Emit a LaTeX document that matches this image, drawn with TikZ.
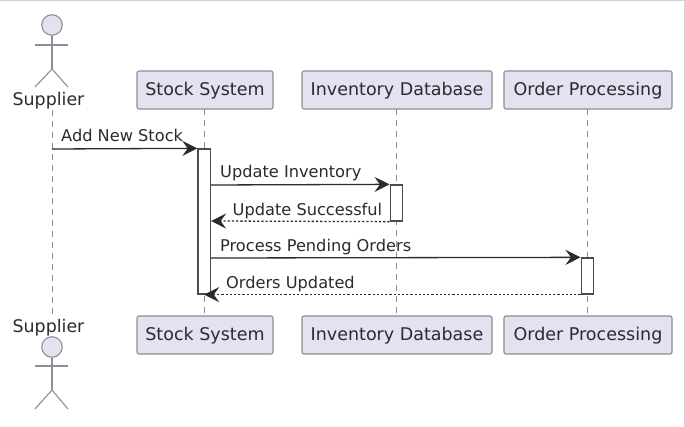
\documentclass[tikz,border=0pt]{standalone}
\usepackage{fontspec}
\setmainfont{DejaVu Sans}
\usetikzlibrary{arrows.meta}
\definecolor{pfill}{HTML}{E2E2F0}
\definecolor{pline}{HTML}{8E8E94}
\definecolor{ink}{HTML}{2A2A30}
\definecolor{life}{HTML}{8C8C8C}
\tikzset{
  x=1pt,y=-1pt,
  part/.style={draw=pline,fill=pfill,line width=1.1pt,rounded corners=2pt,minimum height=38pt,inner sep=0pt,text height=15pt,text depth=3pt,text=ink,font=\fontsize{17.5}{20}\selectfont},
  lbl/.style={text=ink,font=\fontsize{16.2}{19}\selectfont,inner sep=0pt,anchor=base west},
  actorlbl/.style={text=ink,font=\fontsize{17.4}{20}\selectfont,inner sep=0pt},
  lifeline/.style={draw=life,line width=.9pt,dash pattern=on 6pt off 5pt},
  bar/.style={draw=ink!85,fill=white,line width=1.3pt,inner sep=0pt,minimum width=12.5pt},
  msg/.style={draw=ink,line width=1.3pt,-{Stealth[length=15pt,width=15pt,inset=5.5pt]}},
  ret/.style={msg,dash pattern=on 2.2pt off 2pt},
  stick/.style={draw=pline,line width=1.1pt},
  head/.style={circle,draw=pline,fill=pfill,line width=1.1pt,minimum size=20.5pt,inner sep=0pt},
}
\begin{document}
\begin{tikzpicture}
\useasboundingbox (0,0) rectangle (685,427);
\fill[white] (0,0) rectangle (685,427);
\draw[black!18,line width=1pt] (0,1) -- (684.5,1) -- (684.5,427);

% lifeline anchors
\coordinate (supT) at (52,110);
\coordinate (supB) at (52,316);
\coordinate (stoT) at (204,109);
\coordinate (stoB) at (204,315);
\coordinate (invT) at (396,109);
\coordinate (invB) at (396,315);
\coordinate (ordT) at (587,109);
\coordinate (ordB) at (587,315);
\draw[lifeline] (supT) -- (supB);
\draw[lifeline] (stoT) -- (stoB);
\draw[lifeline] (invT) -- (invB);
\draw[lifeline] (ordT) -- (ordB);

% participants
\node[part,minimum width=136pt] (stock) at (205,90) {Stock System};
\node[part,minimum width=190pt] (inv) at (397,90) {Inventory Database};
\node[part,minimum width=168pt] (ord) at (588,90) {Order Processing};
\node[part,minimum width=136pt] (stock2) at (205,335) {Stock System};
\node[part,minimum width=190pt] (inv2) at (397,335) {Inventory Database};
\node[part,minimum width=168pt] (ord2) at (588,335) {Order Processing};

% actors
\node[head] (h1) at (52,25) {};
\coordinate (hip1) at (52,69);
\coordinate (armL1) at (35,45);
\coordinate (armR1) at (68,45);
\coordinate (legL1) at (35,87);
\coordinate (legR1) at (68,87);
\draw[stick] (h1.south) -- (hip1);
\draw[stick] (armL1) -- (armR1);
\draw[stick] (legL1) -- (hip1) -- (legR1);
\node[actorlbl] (sup1) at (48.5,100.5) {Supplier};

\node[actorlbl] (sup2) at (48.5,327.5) {Supplier};
\node[head] (h2) at (52,347) {};
\coordinate (hip2) at (52,390);
\coordinate (armL2) at (35,366);
\coordinate (armR2) at (68,366);
\coordinate (legL2) at (35,409);
\coordinate (legR2) at (68,409);
\draw[stick] (h2.south) -- (hip2);
\draw[stick] (armL2) -- (armR2);
\draw[stick] (legL2) -- (hip2) -- (legR2);

% activations
\node[bar,minimum height=145pt] (a1) at (204.2,221.5) {};
\node[bar,minimum height=36pt] (a2) at (396.4,203) {};
\node[bar,minimum height=36pt] (a3) at (587.4,276) {};

% messages
\coordinate (m1) at (52,149);
\draw[msg] (m1) -- (a1.north west);
\path (a1.east) ++(0,-36.5) coordinate (m2s);
\draw[msg] (m2s) -- (a2.north west);
\path (a1.east) ++(0,-0.5) coordinate (m3e);
\draw[ret] (a2.south west) -- (m3e);
\path (a1.east) ++(0,36.5) coordinate (m4s);
\draw[msg] (m4s) -- (a3.north west);
\draw[ret] (a3.south west) -- (a1.south);

% labels
\node[lbl] (l1) at (61,142) {Add New Stock};
\node[lbl] (l2) at (220,178) {Update Inventory};
\node[lbl] (l3) at (232.5,215.5) {Update Successful};
\node[lbl] (l4) at (220,251.5) {Process Pending Orders};
\node[lbl] (l5) at (226,288.5) {Orders Updated};
\end{tikzpicture}
\end{document}
